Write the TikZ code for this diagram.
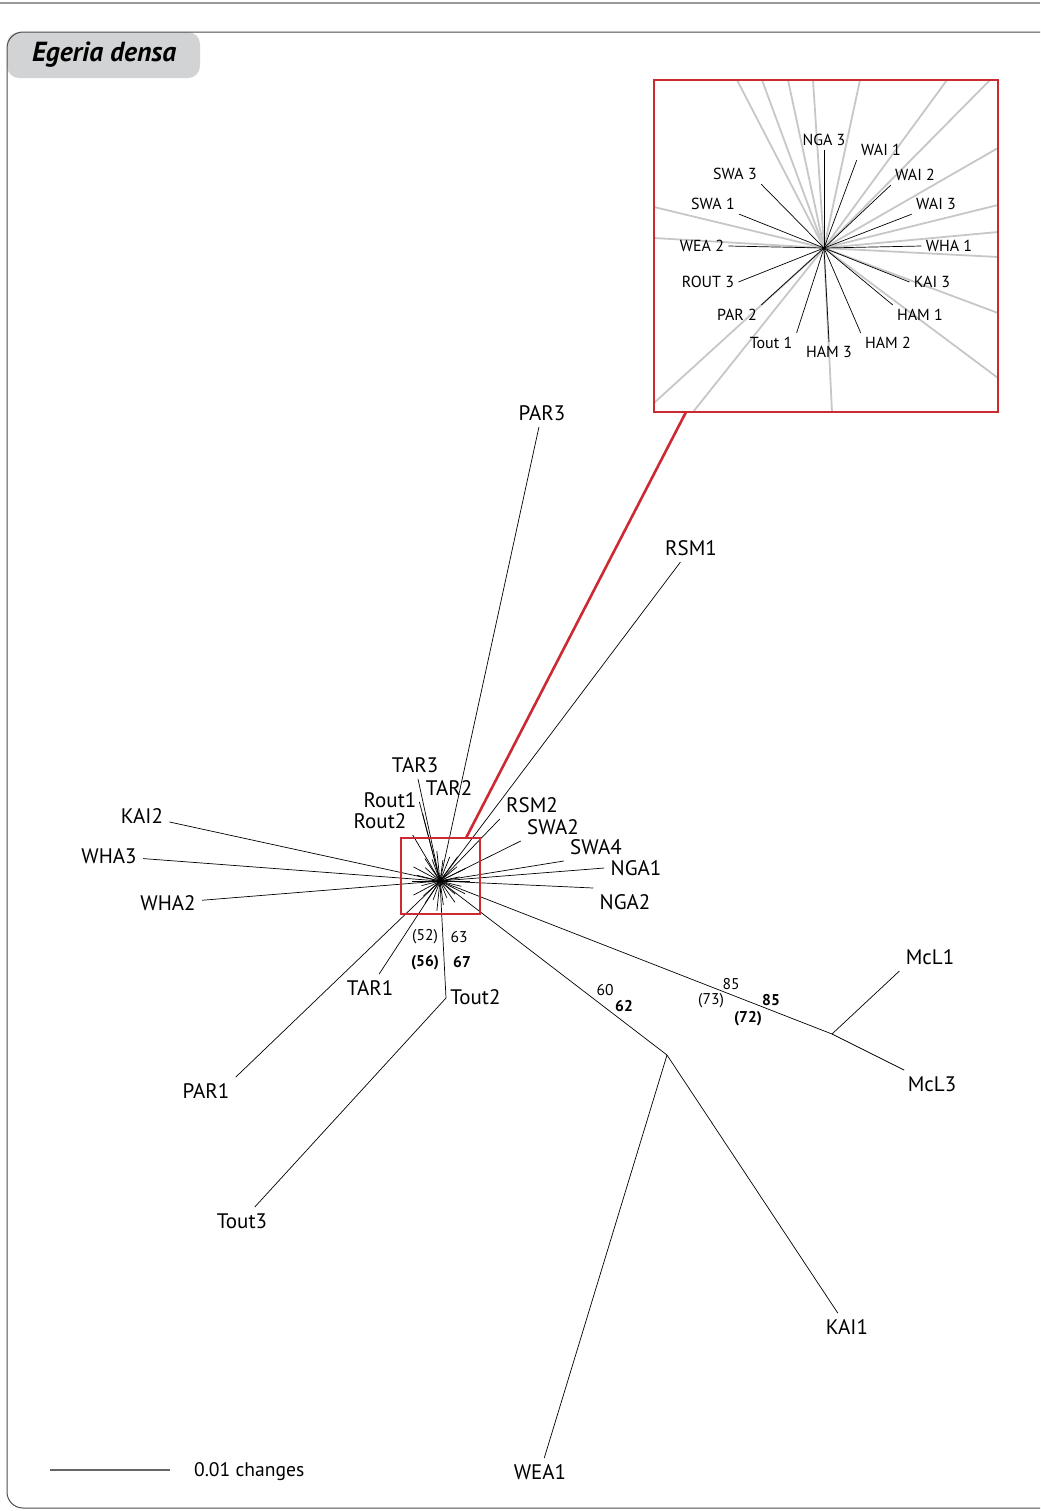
\documentclass[tikz,border=0pt]{standalone}
\usepackage{fontspec}
\setmainfont{PT Sans}
\definecolor{boxred}{RGB}{204,42,50}
\definecolor{tabgray}{RGB}{209,211,212}
\tikzset{
  taxon/.style={font=\fontsize{10.5}{12}\selectfont, inner sep=3pt},
  insettaxon/.style={font=\fontsize{8}{9}\selectfont, inner sep=2pt},
  bsval/.style={font=\fontsize{7.8}{9}\selectfont, inner sep=0pt},
  bsbold/.style={font=\bfseries\fontsize{7.8}{9}\selectfont, inner sep=0pt},
  branch/.style={line width=0.35pt},
  greybranch/.style={line width=0.9pt, color=black!22},
}
\begin{document}
\begin{tikzpicture}[x=0.5pt, y=-0.5pt]
  \useasboundingbox (0,0) rectangle (1040,1511);
  % frame and title tab
  \draw[black!40, line width=1pt] (0,3) -- (1040,3);
  \fill[tabgray, rounded corners=6pt] (7,78) -- (7,32) -- (200,32) -- (200,78) -- cycle;
  \draw[black!70, line width=0.5pt, rounded corners=8pt] (1040,32) -- (7,32) -- (7,1508) -- (1040,1508);
  \node[anchor=west, font=\bfseries\itshape\fontsize{13.8}{15}\selectfont] (title) at (25,55) {Egeria densa};

  % inset
  \coordinate (ic) at (824,248);
  \draw[greybranch] (ic) -- (737,80);  \draw[greybranch] (ic) -- (762,80);
  \draw[greybranch] (ic) -- (788,80);  \draw[greybranch] (ic) -- (813,80);
  \draw[greybranch] (ic) -- (860,80);  \draw[greybranch] (ic) -- (947,80);
  \draw[greybranch] (ic) -- (990,80);
  \draw[greybranch] (ic) -- (998,148); \draw[greybranch] (ic) -- (998,205);
  \draw[greybranch] (ic) -- (998,232); \draw[greybranch] (ic) -- (998,257);
  \draw[greybranch] (ic) -- (998,313); \draw[greybranch] (ic) -- (998,378);
  \draw[greybranch] (ic) -- (654,207); \draw[greybranch] (ic) -- (654,238);
  \draw[greybranch] (ic) -- (654,403); \draw[greybranch] (ic) -- (693,412);
  \draw[greybranch] (ic) -- (832,412);

  \node[insettaxon] (NGA3) at (824,140) {NGA 3};
  \node[insettaxon] (WAI1) at (881,150) {WAI 1};
  \node[insettaxon] (WAI2) at (915,175) {WAI 2};
  \node[insettaxon] (WAI3) at (936,204) {WAI 3};
  \node[insettaxon] (WHA1) at (949,246) {WHA 1};
  \node[insettaxon] (KAI3) at (932,282) {KAI 3};
  \node[insettaxon] (HAM1) at (920,315) {HAM 1};
  \node[insettaxon] (HAM2) at (888,343) {HAM 2};
  \node[insettaxon] (HAM3) at (829,352) {HAM 3};
  \node[insettaxon] (Tout1) at (771,343) {Tout 1};
  \node[insettaxon] (PAR2) at (737,315) {PAR 2};
  \node[insettaxon] (ROUT3) at (708,282) {ROUT 3};
  \node[insettaxon] (WEA2) at (702,246) {WEA 2};
  \node[insettaxon] (SWA1) at (713,204) {SWA 1};
  \node[insettaxon] (SWA3) at (735,174) {SWA 3};

  \draw[branch] (ic) -- (NGA3);
  \draw[branch] (ic) -- (WAI1.south west);
  \draw[branch] (ic) -- (WAI2.south west);
  \draw[branch] (ic) -- (WAI3.south west);
  \draw[branch] (ic) -- (WHA1.west);
  \draw[branch] (ic) -- (KAI3.west);
  \draw[branch] (ic) -- (HAM1.north west);
  \draw[branch] (ic) -- (HAM2.north west);
  \draw[branch] (ic) -- (HAM3.north);
  \draw[branch] (ic) -- (Tout1.north east);
  \draw[branch] (ic) -- (PAR2.north east);
  \draw[branch] (ic) -- (ROUT3.east);
  \draw[branch] (ic) -- (WEA2.east);
  \draw[branch] (ic) -- (SWA1.south east);
  \draw[branch] (ic) -- (SWA3.south east);
  \fill (ic) circle (1.5);
  \draw[boxred, line width=1.1pt] (654,80) rectangle (998,412);

  % main tree
  \coordinate (c) at (440,881);
  \coordinate (tout) at (446,998);
  \coordinate (kw) at (667,1055);
  \coordinate (mcl) at (832,1034);

  \node[taxon] (PAR3) at (542,413) {PAR3};
  \node[taxon] (RSM1) at (691,548) {RSM1};
  \node[taxon] (TAR3) at (415,765) {TAR3};
  \node[taxon] (TAR2) at (449,788) {TAR2};
  \node[taxon] (Rout1) at (390,800) {Rout1};
  \node[taxon] (Rout2) at (380,821) {Rout2};
  \node[taxon] (RSM2) at (532,805) {RSM2};
  \node[taxon] (SWA2) at (553,827) {SWA2};
  \node[taxon] (SWA4) at (596,847) {SWA4};
  \node[taxon] (NGA1) at (636,868) {NGA1};
  \node[taxon] (NGA2) at (625,902) {NGA2};
  \node[taxon] (KAI2) at (142,816) {KAI2};
  \node[taxon] (WHA3) at (109,856) {WHA3};
  \node[taxon] (WHA2) at (168,903) {WHA2};
  \node[taxon] (TAR1) at (370,988) {TAR1};
  \node[taxon] (PAR1) at (206,1091) {PAR1};
  \node[taxon, anchor=west, inner sep=1.5pt] (Tout2) at (447,997) {Tout2};
  \node[taxon] (Tout3) at (242,1221) {Tout3};
  \node[taxon] (McL1) at (930,957) {McL1};
  \node[taxon] (McL3) at (932,1084) {McL3};
  \node[taxon] (KAI1) at (847,1327) {KAI1};
  \node[taxon] (WEA1) at (540,1472) {WEA1};

  \foreach \a/\r in {0/30,14/22,27/28,41/20,55/26,68/18,82/24,96/30,110/20,124/27,
                     138/22,152/30,166/19,180/28,194/24,208/30,222/20,236/27,250/23,
                     264/30,278/21,292/26,306/30,320/22,334/28,348/20}
    \draw[branch] (c) -- ++(\a:\r);

  \draw[branch] (c) -- (PAR3);
  \draw[branch] (c) -- (RSM1);
  \draw[branch] (c) -- (TAR3);
  \draw[branch] (c) -- (TAR2.south west);
  \draw[branch] (c) -- (Rout1.south east);
  \draw[branch] (c) -- (Rout2.south east);
  \draw[branch] (c) -- (RSM2.south west);
  \draw[branch] (c) -- (SWA2.south west);
  \draw[branch] (c) -- (SWA4.south west);
  \draw[branch] (c) -- (NGA1.west);
  \draw[branch] (c) -- (NGA2.north west);
  \draw[branch] (c) -- (KAI2);
  \draw[branch] (c) -- (WHA3);
  \draw[branch] (c) -- (WHA2);
  \draw[branch] (c) -- (TAR1);
  \draw[branch] (c) -- (PAR1.north east);
  \draw[branch] (c) -- (tout) -- (Tout3);
  \draw[branch] (c) -- (kw) -- (WEA1);
  \draw[branch] (kw) -- (KAI1);
  \draw[branch] (c) -- (mcl) -- (McL3);
  \draw[branch] (mcl) -- (McL1.south west);

  % bootstrap values
  \node[bsval] (b52) at (425,937) {(52)};
  \node[bsval] (b63) at (459,937) {63};
  \node[bsbold] (b56) at (425,963) {(56)};
  \node[bsbold] (b67) at (462,962) {67};
  \node[bsval] (b60) at (605,990) {60};
  \node[bsbold] (b62) at (624,1006) {62};
  \node[bsval] (b85) at (731,984) {85};
  \node[bsval] (b73) at (711,1001) {(73)};
  \node[bsbold] (b85b) at (771,1000) {85};
  \node[bsbold] (b72) at (748,1019) {(72)};

  % zoom box and connector
  \draw[boxred, line width=1.1pt] (401,838) rectangle (480,914);
  \coordinate (zb) at (466,838);
  \coordinate (ib) at (686,412);
  \draw[boxred, line width=1.3pt] (zb) -- (ib);

  % scale bar
  \coordinate (sb1) at (50,1470);
  \coordinate (sb2) at (170,1470);
  \draw[black!60, line width=0.6pt] (sb1) -- (sb2);
  \node[anchor=west, font=\fontsize{9.8}{11}\selectfont] (scale) at (187,1472) {0.01 changes};
\end{tikzpicture}
\end{document}
